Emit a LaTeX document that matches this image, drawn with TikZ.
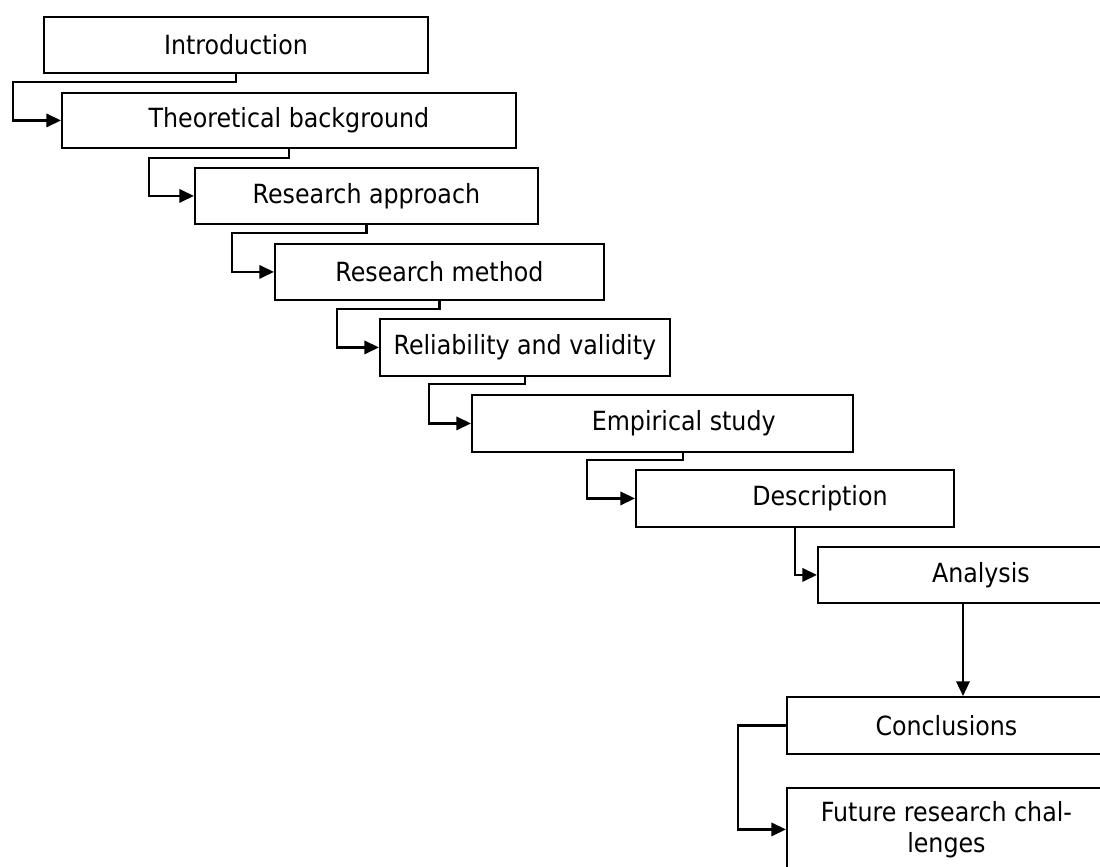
\documentclass[tikz,border=0pt]{standalone}
\usepackage{fontspec}
\setmainfont{DejaVu Sans Condensed}
\usetikzlibrary{arrows.meta}
\begin{document}
\begin{tikzpicture}[x=0.75pt,y=-0.75pt,
  box/.style={draw=black,line width=1.4pt,rectangle,anchor=north west,inner sep=0pt,
    font=\fontsize{19.8}{23}\selectfont,align=center},
  conn/.style={draw=black,line width=1.8pt,-{Triangle[length=11pt,width=10pt]}}]
\clip (0,0) rectangle (1100,867);
\useasboundingbox (0,0) rectangle (1100,867);
\node[box,minimum width=288pt,minimum height=42pt] (intro) at (43,16) {Introduction};
\node[box,minimum width=340.5pt,minimum height=41.25pt] (theo) at (61,92) {Theoretical background};
\node[box,minimum width=257.25pt,minimum height=42pt] (ra) at (194,167) {Research approach};
\node[box,minimum width=246.75pt,minimum height=42pt] (rm) at (274,243) {Research method};
\node[box,minimum width=217.5pt,minimum height=42.75pt] (rel) at (379,318) {Reliability and validity};
\node[box,minimum width=285.75pt,minimum height=42.75pt] (emp) at (471,394) {\hspace*{32pt}Empirical study};
\node[box,minimum width=238.5pt,minimum height=42.75pt] (desc) at (635,469) {\hspace*{37.5pt}Description};
\node[box,minimum width=244.5pt,minimum height=42pt] (ana) at (817,546) {Analysis};
\node[box,minimum width=239.25pt,minimum height=42.75pt] (conc) at (786,696) {Conclusions};
\node[box,minimum width=239.25pt,minimum height=62.25pt] (fut) at (786,787) {Future research chal-\\lenges};
% bend points
\coordinate (k1) at (13,82);
\coordinate (k2) at (149,158);
\coordinate (k3) at (232,233);
\coordinate (k4) at (337,309);
\coordinate (k5) at (429,384);
\coordinate (d6) at (683,460);
\coordinate (k6) at (587,460);
\coordinate (a9) at (963,650);
\coordinate (k10) at (738,724);
% connectors
\draw[conn] (intro.south) |- (k1) |- (theo.west);
\draw[conn] (theo.south) |- (k2) |- (ra.west);
\draw[conn] (ra.south) |- (k3) |- (rm.west);
\draw[conn] (rm.south) |- (k4) |- (rel.west);
\draw[conn] (rel.south) |- (k5) |- (emp.west);
\draw[conn] (d6 |- emp.south) -- (d6) -- (k6) |- (desc.west);
\draw[conn] (desc.south) |- (ana.west);
\draw[conn] (a9 |- ana.south) -- (a9 |- conc.north);
\draw[conn] (conc.west) -- (conc.west -| k10) |- (fut.west);
\end{tikzpicture}
\end{document}
